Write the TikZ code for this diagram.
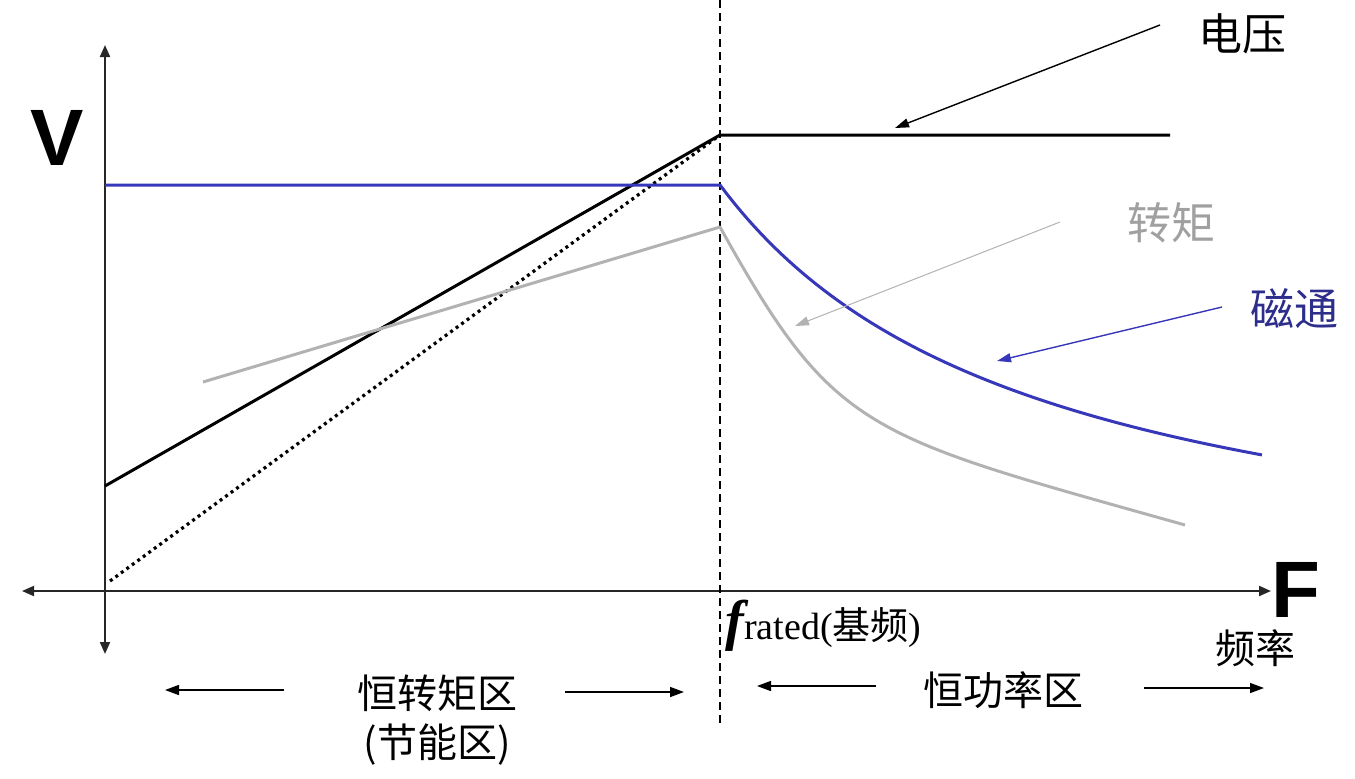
\documentclass[tikz,border=0pt]{standalone}
\usepackage{fontspec}
\setmainfont{Liberation Serif}
\newfontfamily\cjk{Noto Sans CJK SC}
\newfontfamily\arialf{Liberation Sans}
\usetikzlibrary{arrows.meta}
\definecolor{fluxblue}{RGB}{55,55,185}
\definecolor{fluxtext}{RGB}{45,45,140}
\definecolor{torqgray}{RGB}{178,178,178}
\definecolor{torqtext}{RGB}{160,160,160}
\begin{document}
\begin{tikzpicture}[x=0.5pt,y=-0.5pt,
  axisline/.style={line width=1pt,draw=black!85,{Triangle[length=6pt,width=5pt]}-{Triangle[length=6pt,width=5pt]}},
  curve/.style={line width=1.5pt,line join=round},
  callout/.style={line width=0.7pt,-{Triangle[length=7pt,width=4.5pt]}},
  region/.style={line width=0.8pt,-{Triangle[length=7pt,width=5pt]}},
  bigletter/.style={font=\arialf\bfseries\fontsize{40}{40}\selectfont,inner sep=0pt},
  cjklab/.style={font=\cjk\fontsize{22}{22}\selectfont,inner sep=0pt},
  cjkreg/.style={font=\cjk\fontsize{20}{20}\selectfont,inner sep=0pt}]
\useasboundingbox (0,0) rectangle (1355,778);

% axes
\coordinate (ytop) at (105,45);
\coordinate (ybot) at (105,654);
\coordinate (xleft) at (22,591);
\coordinate (xright) at (1271,591);
\draw[axisline] (ybot) -- (ytop);
\draw[axisline] (xleft) -- (xright);

% axis letters
\node[bigletter] (vlab) at (57,138) {V};
\node[bigletter] (flab) at (1296,590) {F};

% rated frequency dashed line
\coordinate (dtop) at (720,0);
\coordinate (dbot) at (720,726);
\draw[line width=0.6pt,dash pattern=on 4pt off 2.5pt] (dtop) -- (dbot);

% voltage
\coordinate (v0) at (105,486);
\coordinate (vk) at (720,135);
\coordinate (v1) at (1170,135);
\draw[curve] (v0) -- (vk) -- (v1);
% dotted ideal V/f
\coordinate (d0) at (110,581);
\draw[line width=1.6pt,dash pattern=on 1.5pt off 1.9pt] (d0) -- (vk);

% flux
\coordinate (b0) at (105,185);
\coordinate (bk) at (720,185);
\draw[curve,fluxblue] (b0) -- (bk) -- plot[domain=7.2:12.62,samples=80] ({100*\x},{614.3-1373.87/(\x-4)});

% torque
\coordinate (t0) at (203,382);
\coordinate (tk) at (720,227);
\coordinate (t1) at (1185,525);
\draw[curve,torqgray] (t0) -- (tk) .. controls (835,434) and (865,435) .. (t1);

% labels and callouts
\node[cjklab] (volt) at (1242,34) {电压};
\coordinate (va) at (1160,25);
\coordinate (vb) at (895,128);
\draw[callout] (va) -- (vb);

\node[cjklab,text=torqtext] (torq) at (1171,223) {转矩};
\coordinate (ta) at (1060,222);
\coordinate (tb) at (795,326);
\draw[callout,draw=torqgray,line width=0.5pt,-{Triangle[length=7pt,width=4.5pt,fill=torqgray]}] (ta) -- (tb);

\node[cjklab,text=fluxtext] (flux) at (1294,309) {磁通};
\coordinate (fa) at (1222,307);
\coordinate (fb) at (997,361);
\draw[callout,draw=fluxblue] (fa) -- (fb);

% frequency labels
\node[inner sep=0pt,anchor=west] (frated) at (725,626) {{\fontsize{28}{28}\selectfont\bfseries\itshape f}{\fontsize{19}{19}\selectfont rated(\cjk 基频\rmfamily)}};
\node[cjkreg] (freq) at (1255,648) {频率};

% regions
\node[cjkreg] (ctq) at (437,693) {恒转矩区};
\node[cjkreg] (esv) at (437,745) {(节能区)};
\coordinate (l1a) at (284,690);
\coordinate (l1b) at (165,690);
\coordinate (r1a) at (565,692);
\coordinate (r1b) at (684,692);
\draw[region] (l1a) -- (l1b);
\draw[region] (r1a) -- (r1b);

\node[cjkreg] (cpw) at (1003,690) {恒功率区};
\coordinate (l2a) at (876,686);
\coordinate (l2b) at (757,686);
\coordinate (r2a) at (1144,688);
\coordinate (r2b) at (1264,688);
\draw[region] (l2a) -- (l2b);
\draw[region] (r2a) -- (r2b);
\end{tikzpicture}
\end{document}
